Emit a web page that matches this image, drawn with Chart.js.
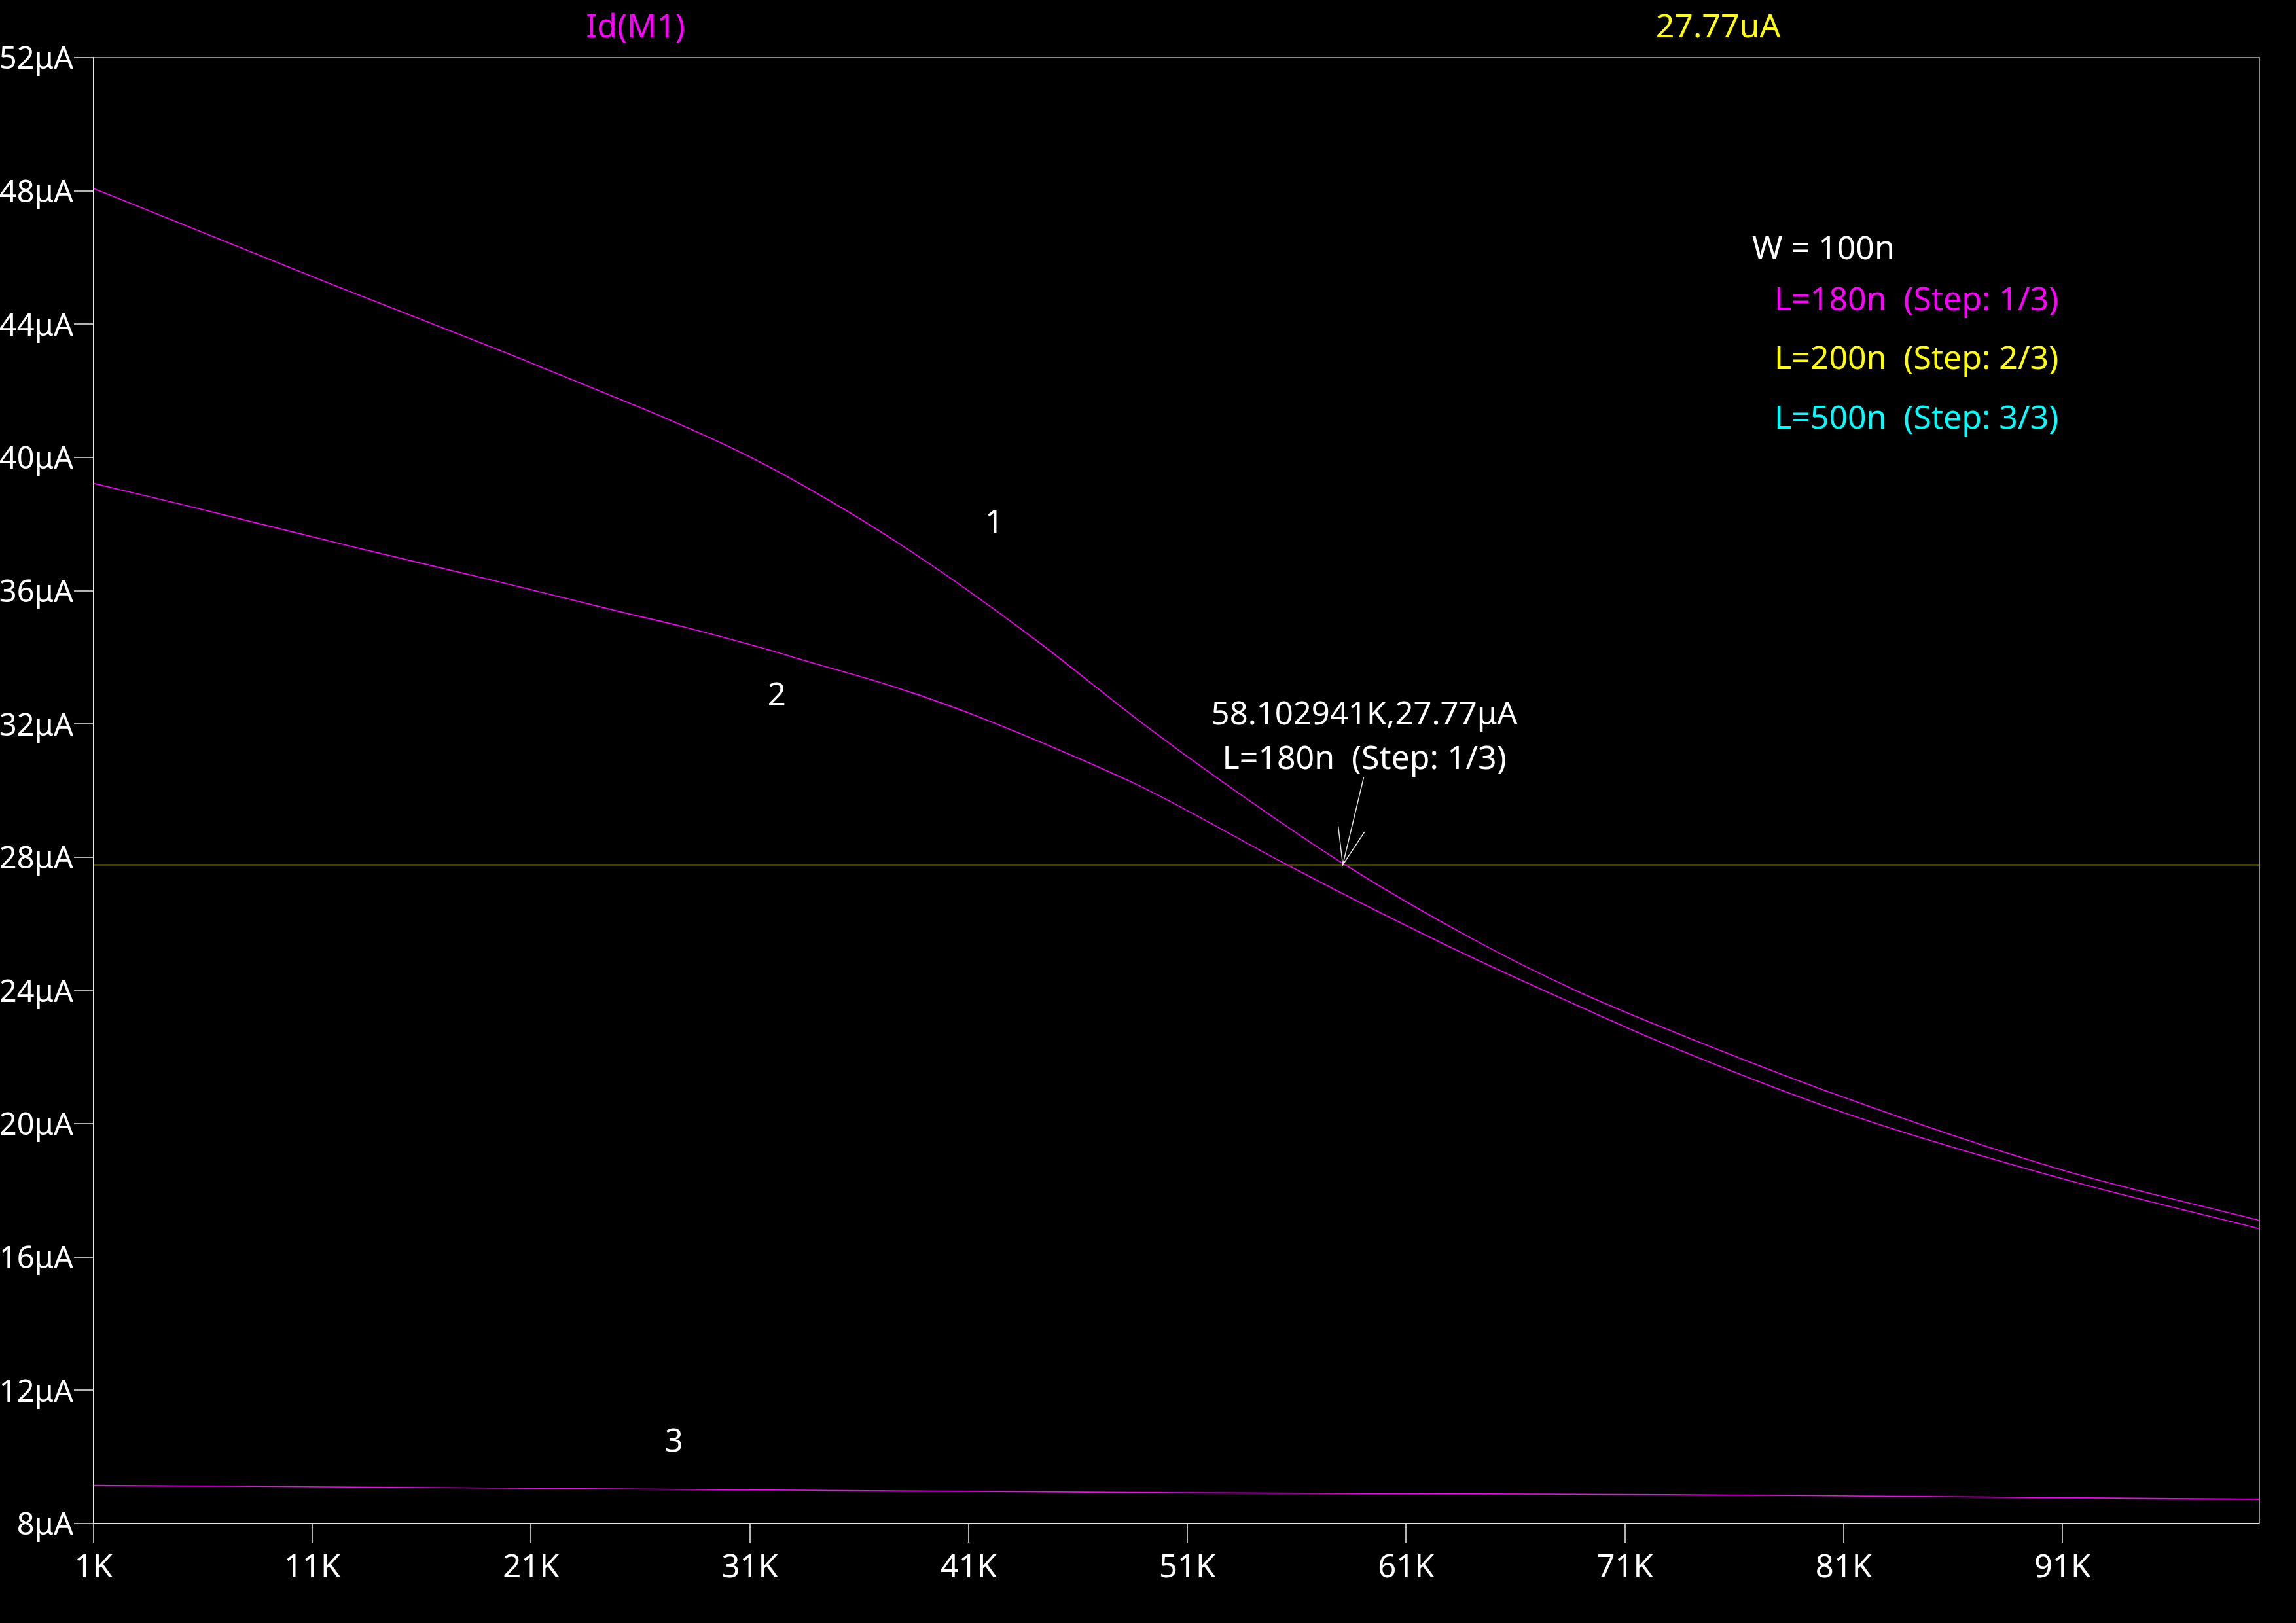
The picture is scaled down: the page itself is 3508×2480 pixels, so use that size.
<!DOCTYPE html>
<html>
<head>
<meta charset="utf-8">
<script src="https://cdn.jsdelivr.net/npm/chart.js@4.4.1/dist/chart.umd.min.js"></script>
<style>
  html, body { margin: 0; padding: 0; background: #000; }
  canvas { display: block; }
</style>
</head>
<body>
<canvas id="c" width="3508" height="2480"></canvas>
<script>
// ---- data (x in K, y in μA) ----
const xTicks = [1, 11, 21, 31, 41, 51, 61, 71, 81, 91];
const xTickLabels = ['1K', '11K', '21K', '31K', '41K', '51K', '61K', '71K', '81K', '91K'];
const yTicks = [8, 12, 16, 20, 24, 28, 32, 36, 40, 44, 48, 52];
const yTickLabels = ['8μA', '12μA', '16μA', '20μA', '24μA', '28μA', '32μA', '36μA', '40μA', '44μA', '48μA', '52μA'];

const step1X = [1, 4.65, 11.98, 19.78, 24.93, 27.07, 30.43, 32.27, 35.01, 36.54, 38.22, 40.66, 44.33, 48.88, 52.7, 58.14, 64.14, 68.72, 72.81, 80.97, 90.99, 100];
const step1Y = [48.07, 47.11, 45.17, 43.16, 41.78, 41.20, 40.20, 39.58, 38.56, 37.95, 37.24, 36.15, 34.39, 32.05, 30.22, 27.80, 25.51, 24.01, 22.87, 20.80, 18.61, 17.10];

const step2X = [1, 5.58, 12.76, 19.32, 24.93, 27.99, 31.5, 34.09, 36.54, 38.67, 41.12, 44.78, 48.88, 55.51, 59.56, 64.14, 68.72, 72.81, 80.97, 90.99, 100];
const step2Y = [39.22, 38.50, 37.33, 36.30, 35.39, 34.91, 34.29, 33.79, 33.33, 32.88, 32.30, 31.32, 30.12, 27.79, 26.42, 24.95, 23.58, 22.40, 20.34, 18.35, 16.85];

const step3X = [1, 26.6, 50.6, 72.81, 100];
const step3Y = [9.15, 9.03, 8.92, 8.87, 8.73];

const cursorX = 58.102941;
const cursorY = 27.77;
const xRange = [1, 100];
const yRange = [8, 52];

const traceName = 'Id(M1)';
const cursorReadout = '27.77uA';
const cursorLabel = ['58.102941K,27.77μA', 'L=180n  (Step: 1/3)'];
const stepTitle = 'W = 100n';
const stepLabels = ['L=180n  (Step: 1/3)', 'L=200n  (Step: 2/3)', 'L=500n  (Step: 3/3)'];
const stepColors = ['#ff00ff', '#ffff00', '#00ffff'];
const curveNumbers = [
  { text: '1', x: 42.17, y: 38.09 },
  { text: '2', x: 32.23, y: 32.91 },
  { text: '3', x: 27.53, y: 10.51 }
];

// ---- chart ----
const FONT = '"Noto Sans", "Open Sans", sans-serif';
const toPts = (xs, ys) => xs.map((x, i) => ({ x: x, y: ys[i] }));

const overlay = {
  id: 'overlay',
  beforeDatasetsDraw(chart) {
    const { ctx, chartArea: a } = chart;
    ctx.save();
    ctx.strokeStyle = '#8c8c8c';
    ctx.lineWidth = 2;
    ctx.beginPath();
    ctx.moveTo(a.left, a.top);
    ctx.lineTo(a.right, a.top);
    ctx.lineTo(a.right, a.bottom);
    ctx.stroke();
    ctx.restore();
  },
  afterDatasetsDraw(chart) {
    const { ctx, scales } = chart;
    const sx = scales.x, sy = scales.y;
    ctx.save();
    ctx.fillStyle = '#ffffff';
    ctx.font = '49px ' + FONT;
    ctx.textAlign = 'center';
    ctx.textBaseline = 'middle';
    curveNumbers.forEach(c => {
      ctx.fillText(c.text, sx.getPixelForValue(c.x), sy.getPixelForValue(c.y) + 4);
    });
    // cursor arrow and readout
    const tx = sx.getPixelForValue(cursorX);
    const ty = sy.getPixelForValue(cursorY);
    ctx.strokeStyle = '#e0e0e0';
    ctx.lineWidth = 1.5;
    ctx.beginPath();
    ctx.moveTo(tx + 32, ty - 134);
    ctx.lineTo(tx, ty);
    ctx.moveTo(tx - 7, ty - 59);
    ctx.lineTo(tx, ty);
    ctx.lineTo(tx + 33, ty - 50);
    ctx.stroke();
    ctx.textBaseline = 'alphabetic';
    ctx.fillText(cursorLabel[0], tx + 33, ty - 215);
    ctx.font = '50px ' + FONT;
    ctx.fillText(cursorLabel[1], tx + 33, ty - 147);
    ctx.restore();
  },
  afterDraw(chart) {
    const { ctx } = chart;
    ctx.save();
    ctx.font = '50px ' + FONT;
    ctx.textBaseline = 'alphabetic';
    ctx.textAlign = 'center';
    ctx.fillStyle = '#ff00ff';
    ctx.fillText(traceName, 971, 57);
    ctx.fillStyle = '#ffff00';
    ctx.fillText(cursorReadout, 2625, 57);
    ctx.textAlign = 'left';
    ctx.fillStyle = '#ffffff';
    ctx.fillText(stepTitle, 2677, 396);
    const base = [474, 564, 655];
    stepLabels.forEach((t, i) => {
      ctx.fillStyle = stepColors[i];
      ctx.fillText(t, 2711, base[i]);
    });
    ctx.restore();
  }
};

const lineStyle = { borderColor: '#ff00ff', borderWidth: 1.6, pointRadius: 0, fill: false };

new Chart(document.getElementById('c'), {
  type: 'line',
  data: {
    datasets: [
      Object.assign({ label: 'step1', data: toPts(step1X, step1Y), cubicInterpolationMode: 'monotone' }, lineStyle),
      Object.assign({ label: 'step2', data: toPts(step2X, step2Y), cubicInterpolationMode: 'monotone' }, lineStyle),
      Object.assign({ label: 'step3', data: toPts(step3X, step3Y), tension: 0 }, lineStyle),
      { label: 'cursor', data: [{ x: xRange[0], y: cursorY }, { x: xRange[1], y: cursorY }],
        borderColor: '#ffff00', borderWidth: 1.5, pointRadius: 0, tension: 0, fill: false }
    ]
  },
  options: {
    responsive: false,
    devicePixelRatio: 1,
    animation: false,
    events: [],
    layout: { padding: { top: 88, right: 56, left: 0, bottom: 0 } },
    plugins: { legend: { display: false }, tooltip: { enabled: false } },
    scales: {
      x: {
        type: 'linear',
        min: xRange[0], max: xRange[1],
        afterBuildTicks: (axis) => { axis.ticks = xTicks.map(v => ({ value: v })); },
        afterFit: (axis) => { axis.height = 152; },
        ticks: {
          autoSkip: false, maxRotation: 0, padding: 10,
          color: '#ffffff', font: { family: FONT, size: 49 },
          callback: (v, i) => xTickLabels[i]
        },
        grid: { drawOnChartArea: false, drawTicks: true, tickLength: 29, color: '#b4b4b4', lineWidth: 2 },
        border: { display: true, color: '#e6e6e6', width: 2 }
      },
      y: {
        type: 'linear',
        min: yRange[0], max: yRange[1],
        afterBuildTicks: (axis) => { axis.ticks = yTicks.map(v => ({ value: v })); },
        afterFit: (axis) => { axis.width = 143; },
        ticks: {
          autoSkip: false, padding: 1, labelOffset: 4,
          color: '#ffffff', font: { family: FONT, size: 47 },
          callback: (v, i) => yTickLabels[i]
        },
        grid: { drawOnChartArea: false, drawTicks: true, tickLength: 30, color: '#b4b4b4', lineWidth: 2 },
        border: { display: true, color: '#e6e6e6', width: 2 }
      }
    }
  },
  plugins: [overlay]
});
</script>
</body>
</html>
